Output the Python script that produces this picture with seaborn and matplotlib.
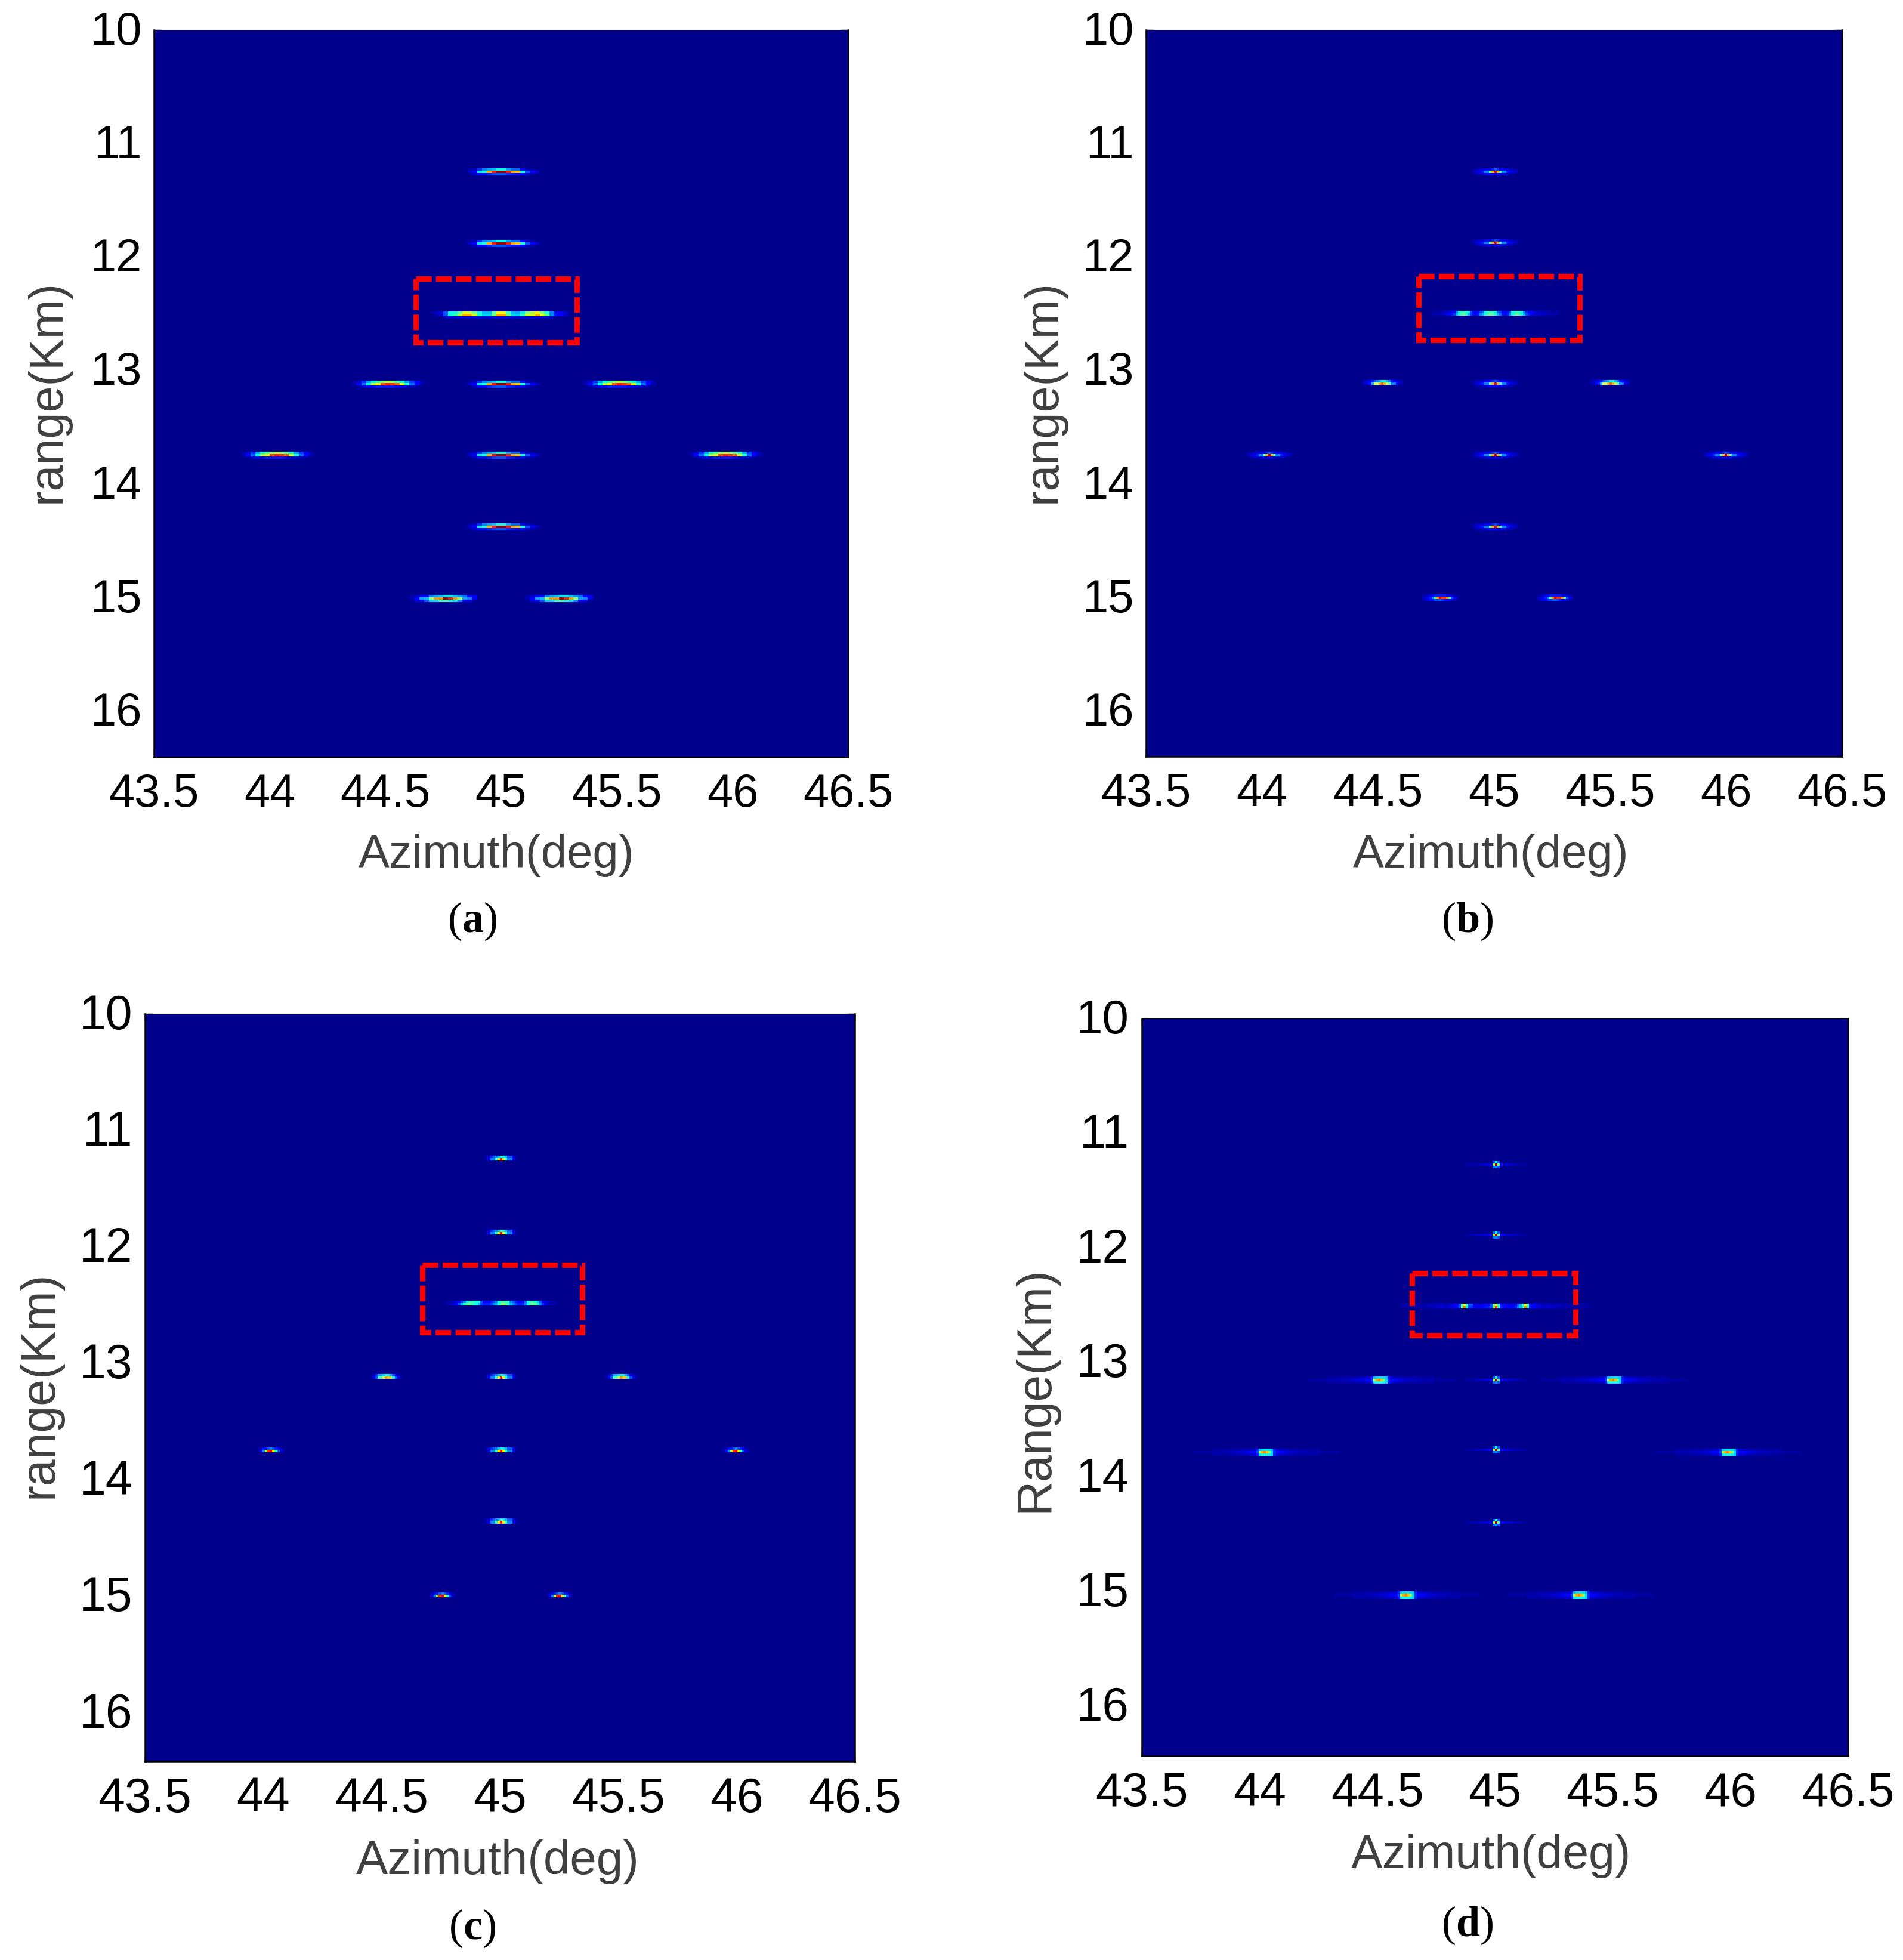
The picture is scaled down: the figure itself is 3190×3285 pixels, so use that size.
import numpy as np
import pandas as pd
import seaborn as sns
import matplotlib.pyplot as plt
from matplotlib.patches import Rectangle
from matplotlib.transforms import ScaledTranslation

# axis ticks
az_ticks = [43.5, 44, 44.5, 45, 45.5, 46, 46.5]
az_tick_labels = ["43.5", "44", "44.5", "45", "45.5", "46", "46.5"]
range_ticks = [10, 11, 12, 13, 14, 15, 16]
range_tick_labels = ["10", "11", "12", "13", "14", "15", "16"]

# target positions (azimuth deg, range km)
center_col_ranges = [11.25, 11.875, 13.125, 13.75, 14.375]
a_mid_az = [44.52, 45.52]
a_far_az = [44.03, 45.97]
a_low_az = [44.76, 45.25]
b_mid_az = [44.52, 45.5]
b_far_az = [44.03, 46.0]
b_low_az = [44.77, 45.26]
c_mid_az = [44.52, 45.51]
c_far_az = [44.03, 46.0]
c_low_az = [44.76, 45.25]
d_mid_az = [44.52, 45.51]
d_far_az = [44.03, 46.0]
d_low_az = [44.635, 45.37]
d_far_range = 13.77
d_low_range = 15.02

# cell values of the spots, rows from top to bottom (jet scale 0..1)
a_center = [
    [.02, .04, .16, .24, .28, .31, .36, .36, .28, .22, .22, .12, .04, .02, 0],
    [.05, .11, .35, .38, .72, .88, .98, .98, .88, .73, .7, .38, .2, .11, .06],
    [0, .04, .1, .12, .15, .18, .2, .2, .15, .14, .12, .1, .04, .02, 0],
]
a_side = [
    [.02, .06, .16, .28, .36, .42, .5, .55, .5, .42, .36, .28, .17, .1, .04],
    [.03, .12, .22, .36, .58, .64, .82, .88, .85, .8, .62, .38, .22, .12, .04],
    [0, .02, .06, .1, .12, .14, .14, .14, .14, .12, .1, .06, .04, .02, 0],
]
a_low = [
    [.02, .06, .11, .12, .24, .28, .3, .34, .34, .3, .26, .22, .11, .08],
    [.04, .1, .28, .3, .55, .75, .76, .95, .88, .75, .55, .28, .25, .1],
    [0, .08, .12, .2, .32, .33, .4, .42, .36, .34, .25, .12, .1, 0],
]
a_triple = [
    [.05, .08, .2, .36, .36, .45, .62, .6, .48, .36, .3, .3, .45, .64,
     .62, .42, .3, .28, .35, .5, .57, .65, .5, .38, .25, .12, .1, .05],
    [.03, .05, .2, .36, .4, .55, .72, .72, .58, .38, .33, .33, .48, .73,
     .73, .48, .33, .32, .4, .58, .6, .72, .6, .45, .25, .12, .1, .04],
    [0, 0, .04, .06, .06, .07, .07, .07, .07, .06, .06, .06, .06, .07,
     .07, .06, .06, .06, .06, .07, .07, .07, .06, .06, .04, 0, 0, 0],
]

b_center = [
    [.02, .03, .04, .05, .07, .09, .1, .12, .16, .2, .16, .12, .1, .09, .07, .05, .04, .03, .02],
    [.04, .06, .08, .1, .14, .25, .25, .48, .72, .92, .72, .45, .25, .25, .14, .1, .08, .06, .04],
    [0, .02, .03, .04, .05, .06, .08, .1, .1, .1, .1, .08, .06, .05, .04, .03, .02, 0, 0],
]
b_side = [
    [.03, .05, .08, .1, .14, .2, .25, .3, .36, .36, .3, .25, .14, .1, .08, .05, .03],
    [.04, .06, .1, .14, .3, .6, .6, .72, .8, .72, .6, .48, .25, .25, .1, .06, .04],
]
b_low = [
    [.02, .03, .05, .08, .1, .14, .14, .14, .14, .14, .1, .08, .05, .03, .02],
    [.05, .06, .1, .15, .25, .45, .75, .9, .85, .85, .75, .45, .2, .1, .06],
    [.03, .05, .08, .1, .14, .18, .2, .2, .18, .14, .1, .08, .05, .03, .02],
]
b_triple = [
    [.02, .02, .02, .03, .03, .05, .06, .08, .1, .12, .25, .36, .4, .4, .38, .36, .2, .12, .12,
     .12, .18, .22, .36, .4, .42, .4, .36, .22, .18, .12, .12, .12, .2, .36, .38, .4, .4, .36,
     .25, .15, .12, .1, .08, .06, .06, .05, .04, .04, .03, .03, .02, .02, .02],
    [.03, .03, .03, .04, .05, .06, .08, .1, .14, .18, .3, .38, .42, .48, .4, .3, .18, .12, .12,
     .14, .25, .3, .38, .44, .48, .44, .38, .3, .22, .14, .12, .14, .25, .36, .42, .48, .42, .36,
     .3, .2, .14, .1, .08, .06, .06, .05, .05, .04, .04, .03, .03, .03, .03],
]

c_center = [
    [.02, .06, .15, .2, .25, .3, .38, .35, .3, .2, .2, .08, .02],
    [.03, .08, .25, .25, .42, .65, .88, .65, .42, .25, .25, .08, .03],
]
c_side = [
    [.02, .06, .15, .28, .3, .33, .36, .36, .3, .2, .1, .04, .02],
    [.03, .08, .2, .42, .45, .6, .75, .7, .7, .36, .2, .08, .03],
]
c_low = [
    [.02, .04, .1, .14, .2, .25, .2, .14, .1, .04, .02],
    [.03, .1, .25, .55, .85, .9, .65, .4, .2, .08, .03],
]
c_triple = [
    [.02, .03, .04, .05, .08, .12, .18, .25, .36, .4, .42, .38, .36, .36, .2, .12, .12, .12, .14,
     .18, .25, .36, .42, .42, .42, .38, .25, .2, .14, .12, .12, .12, .22, .36, .4, .42, .38, .32,
     .2, .12, .08, .05, .04, .03, .02],
    [.02, .03, .05, .08, .12, .2, .3, .38, .44, .48, .42, .38, .36, .3, .18, .14, .14, .14, .18,
     .25, .3, .38, .48, .5, .48, .38, .3, .25, .18, .14, .14, .16, .25, .36, .42, .48, .46, .36,
     .25, .16, .1, .06, .04, .03, .02],
]

# long faint side lobes of panel d, from the spot outwards
d_tail = [.12, .11, .1, .08, .07, .06, .06, .05, .05, .04, .04, .04, .04, .03, .03, .03, .03, .03,
          .02, .02, .02, .02, .02, .02, .02, .02]
d_tail_dim = [.06, .05, .05, .04, .04, .04, .03, .03, .03, .03, .03, .02, .02, .02, .02, .02, .02, .02]
d_tail_short = [.09, .08, .07, .06, .05, .04, .04, .03, .03, .02, .02]
d_point_core = [
    [.2, .36, .2],
    [.55, .98, .48],
    [.22, .25, .2],
]
d_side_core = [
    [.14, .3, .33, .34, .34, .33, .3, .14],
    [.18, .55, .72, .76, .7, .5, .33, .15],
    [.14, .35, .36, .36, .36, .35, .33, .14],
]
d_triple_core = [
    [.04, .05, .06, .08, .1, .12, .18, .45, .62, .38, .2, .2, .1, .08, .08, .08, .1, .12, .12, .18, .45, .62,
     .38, .14, .12, .12, .1, .08, .08, .1, .2, .28, .4, .65, .42, .14, .12, .1, .08, .06, .05, .04],
    [.04, .05, .06, .08, .1, .12, .2, .47, .78, .35, .18, .16, .1, .08, .08, .1, .12, .14, .14, .2, .5, .85,
     .42, .14, .12, .12, .1, .1, .12, .14, .25, .3, .42, .76, .4, .14, .12, .1, .08, .06, .05, .04],
]

panel_labels = ["a", "b", "c", "d"]
y_labels = ["range(Km)", "range(Km)", "range(Km)", "Range(Km)"]
n_cols = [144, 290, 290, 290]
n_rows = [305, 305, 305, 305]
range_max = [16.405, 16.4, 16.42, 16.44]
row_shift = [-1, -1, -1, 0]

# dashed red box limits (az left, az right, range top, range bottom)
red_boxes = [
    (44.632, 45.328, 12.19, 12.755),
    (44.675, 45.37, 12.17, 12.73),
    (44.672, 45.348, 12.157, 12.736),
    (44.649, 45.343, 12.227, 12.768),
]

# layout in pixels of the full image
W, H = 3190, 3285
axes_px = [(258, 1422, 50, 1269), (1921, 3088, 50, 1268),
           (243, 1433, 1699, 2952), (1914, 3098, 1707, 2943)]
xlabel_px = [(832, 1434), (2499, 1434), (834, 3121), (2499, 3111)]
ylabel_px = [(80, 656), (1749, 656), (67, 2321), (1735, 2328)]
caption_px = [(792, 1544), (2460, 1544), (792, 3232), (2460, 3227)]
tick_size = [56, 56, 58, 57.5]
xlabel_size = [56, 56, 57.5, 56.8]
ylabel_size = [57, 57, 58, 58]

sns.set_theme(style="white")
plt.rcParams["font.family"] = ["Liberation Sans", "DejaVu Sans"]
plt.rcParams["mathtext.fontset"] = "custom"
plt.rcParams["mathtext.rm"] = "Liberation Serif"
plt.rcParams["mathtext.bf"] = "Liberation Serif:bold"


def stamp(grid, az, rng, rows, rmax, shift):
    # put a read spot into the panel matrix, centred on its azimuth and range
    nr, nc = grid.shape
    r0 = int((rng - 10) / (rmax - 10) * nr) + shift
    for i, row in enumerate(rows):
        c0 = int((az - 43.5) / 3 * nc) - len(row) // 2
        for j, val in enumerate(row):
            grid[r0 + i, c0 + j] = max(grid[r0 + i, c0 + j], val)


def with_tails(row, tail):
    return tail[::-1] + row + tail


def panel_grid(k):
    grid = np.zeros((n_rows[k], n_cols[k]))
    if k == 0:
        spots = [(45, r, a_center) for r in center_col_ranges]
        spots += [(az, 13.125, a_side) for az in a_mid_az]
        spots += [(az, 13.75, a_side) for az in a_far_az]
        spots += [(az, 15.0, a_low) for az in a_low_az]
        spots += [(45, 12.5, a_triple)]
    elif k == 1:
        spots = [(45, r, b_center) for r in center_col_ranges]
        spots += [(az, 13.125, b_side) for az in b_mid_az]
        spots += [(az, 13.75, b_center) for az in b_far_az]
        spots += [(az, 15.0, b_low) for az in b_low_az]
        spots += [(45, 12.5, b_triple)]
    elif k == 2:
        spots = [(45, r, c_center) for r in center_col_ranges]
        spots += [(az, 13.125, c_side) for az in c_mid_az]
        spots += [(az, 13.75, c_low) for az in c_far_az]
        spots += [(az, 15.0, c_low) for az in c_low_az]
        spots += [(45, 12.5, c_triple)]
    else:
        point = [d_point_core[0],
                 with_tails(d_point_core[1], d_tail_short),
                 d_point_core[2]]
        side = [with_tails(d_side_core[0], d_tail_dim),
                with_tails(d_side_core[1], d_tail),
                with_tails(d_side_core[2], d_tail_dim)]
        triple = [with_tails(row, d_tail_dim) for row in d_triple_core]
        spots = [(45, r, point) for r in center_col_ranges]
        spots += [(az, 13.125, side) for az in d_mid_az]
        spots += [(az, d_far_range, side) for az in d_far_az]
        spots += [(az, d_low_range, side) for az in d_low_az]
        spots += [(45, 12.5, triple)]
    for az, r, rows in spots:
        stamp(grid, az, r, rows, range_max[k], row_shift[k])
    return grid


fig = plt.figure(figsize=(W / 100, H / 100), dpi=100)
lift = ScaledTranslation(0, 4 / 100, fig.dpi_scale_trans)

for k in range(4):
    L, R, T, B = axes_px[k]
    ax = fig.add_axes([L / W, 1 - B / H, (R - L) / W, (B - T) / H])
    grid = pd.DataFrame(panel_grid(k))
    sns.heatmap(grid, ax=ax, cmap="jet", vmin=-0.0134, vmax=1, cbar=False,
                xticklabels=False, yticklabels=False)

    nr, nc = grid.shape
    rmax = range_max[k]
    to_x = lambda a: (a - 43.5) / 3 * nc
    to_y = lambda r: (r - 10) / (rmax - 10) * nr

    ax.set_xticks([to_x(t) for t in az_ticks])
    ax.set_xticklabels(az_tick_labels, rotation=0)
    ax.set_yticks([to_y(t) for t in range_ticks])
    ax.set_yticklabels(range_tick_labels, rotation=0)
    ax.tick_params(axis="x", direction="in", length=8.5, width=1.0, top=True, bottom=True,
                   labelsize=tick_size[k], labelcolor="black", color="black", pad=18.5)
    ax.tick_params(axis="y", direction="in", length=8.5, width=1.0, left=True, right=True,
                   labelsize=tick_size[k], labelcolor="black", color="black", pad=15)
    for label in ax.get_yticklabels():
        label.set_transform(label.get_transform() + lift)
    for side in ["left", "right", "top", "bottom"]:
        ax.spines[side].set_visible(True)
        ax.spines[side].set_color("black")
        ax.spines[side].set_linewidth(1.8)
    ax.spines["top"].set_linewidth(0.8)

    x0, x1, y0, y1 = red_boxes[k]
    ax.add_patch(Rectangle((to_x(x0), to_y(y0)), to_x(x1) - to_x(x0), to_y(y1) - to_y(y0),
                           fill=False, edgecolor="#ff0000", linewidth=6.5,
                           linestyle=(0, (2.9, 0.8)), joinstyle="miter", zorder=5))

    ax.set_xlabel("Azimuth(deg)", fontsize=xlabel_size[k], color="#404040", va="center")
    ax.set_ylabel(y_labels[k], fontsize=ylabel_size[k], color="#404040", va="center")
    ax.xaxis.set_label_coords(xlabel_px[k][0] / W, 1 - xlabel_px[k][1] / H, transform=fig.transFigure)
    ax.yaxis.set_label_coords(ylabel_px[k][0] / W, 1 - ylabel_px[k][1] / H, transform=fig.transFigure)

    fig.text(caption_px[k][0] / W, 1 - caption_px[k][1] / H,
             r"($\mathbf{" + panel_labels[k] + r"}$)", fontsize=52, color="black",
             family="Liberation Serif", ha="center", va="center")

fig.savefig("out.png", dpi=100, facecolor="white")
